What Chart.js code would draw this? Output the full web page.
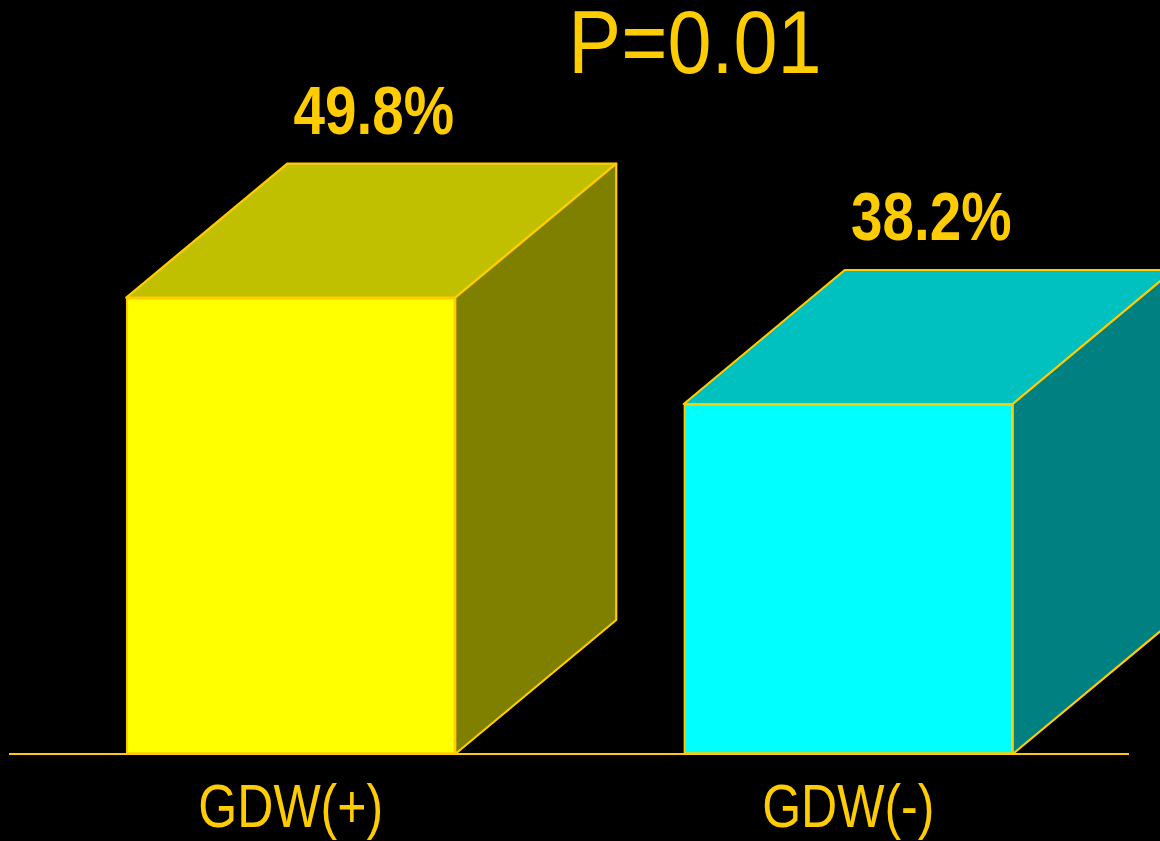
<!DOCTYPE html>
<html>
<head>
<meta charset="utf-8">
<title>GDW</title>
<script src="https://cdn.jsdelivr.net/npm/chart.js@4/dist/chart.umd.min.js"></script>
<style>
  html, body { margin: 0; padding: 0; background: #000; }
  #c { display: block; }
</style>
</head>
<body>
<canvas id="c" width="1160" height="841"></canvas>
<script>
// Categories and values (percent)
const categories = ['GDW(+)', 'GDW(-)'];
const values = [49.8, 38.2];
const valueLabels = ['49.8%', '38.2%'];
const pValueText = 'P=0.01';

// Face colours per bar: front, top, side
const frontColors = ['#FFFF00', '#00FFFF'];
const topColors = ['#C0C000', '#00C0C0'];
const sideColors = ['#808000', '#008080'];
const edgeColor = '#FFCC00';
const textColor = '#FFCC00';

// Extrusion of the boxes (pixels)
const DEPTH_X = 161;
const DEPTH_Y = -134;

function poly(ctx, pts, fill) {
  ctx.beginPath();
  ctx.moveTo(pts[0][0], pts[0][1]);
  for (let i = 1; i < pts.length; i++) ctx.lineTo(pts[i][0], pts[i][1]);
  ctx.closePath();
  ctx.fillStyle = fill;
  ctx.fill();
  ctx.lineWidth = 2.2;
  ctx.lineJoin = 'round';
  ctx.strokeStyle = edgeColor;
  ctx.stroke();
}

// centred text, squeezed horizontally for a condensed look
function condensedText(ctx, text, x, y, squeeze) {
  ctx.save();
  ctx.translate(x, y);
  ctx.scale(squeeze, 1);
  ctx.textAlign = 'center';
  ctx.fillText(text, 0, 0);
  ctx.restore();
}

const boxPlugin = {
  id: 'box3d',
  beforeDraw(chart) {
    const ctx = chart.ctx;
    ctx.save();
    ctx.fillStyle = '#000';
    ctx.fillRect(0, 0, chart.width, chart.height);
    ctx.restore();
  },
  beforeDatasetsDraw(chart) {
    const ctx = chart.ctx;
    const y0 = chart.scales.y.getPixelForValue(0);
    const area = chart.chartArea;
    ctx.save();
    ctx.strokeStyle = edgeColor;
    ctx.lineWidth = 2;
    ctx.beginPath();
    ctx.moveTo(area.left - 3, y0);
    ctx.lineTo(area.right + 2, y0);
    ctx.stroke();
    ctx.restore();
  },
  afterDatasetsDraw(chart) {
    const ctx = chart.ctx;
    const meta = chart.getDatasetMeta(0);
    ctx.save();
    meta.data.forEach((bar, i) => {
      const p = bar.getProps(['x', 'y', 'base', 'width'], true);
      const l = p.x - p.width / 2, r = p.x + p.width / 2;
      poly(ctx, [[l, p.y], [l + DEPTH_X, p.y + DEPTH_Y], [r + DEPTH_X, p.y + DEPTH_Y], [r, p.y]], topColors[i]);
      poly(ctx, [[r, p.y], [r + DEPTH_X, p.y + DEPTH_Y], [r + DEPTH_X, p.base + DEPTH_Y], [r, p.base]], sideColors[i]);
    });
    ctx.restore();
  },
  afterDraw(chart) {
    const ctx = chart.ctx;
    const meta = chart.getDatasetMeta(0);
    const xs = chart.scales.x;
    const y0 = chart.scales.y.getPixelForValue(0);
    ctx.save();
    ctx.fillStyle = textColor;
    ctx.textBaseline = 'alphabetic';

    // value labels above each box
    ctx.font = 'bold 69px "Liberation Sans", Arial, sans-serif';
    meta.data.forEach((bar, i) => {
      const p = bar.getProps(['x', 'y'], true);
      condensedText(ctx, valueLabels[i], p.x + 83, p.y + DEPTH_Y - 30, 0.82);
    });

    // category labels under the baseline
    ctx.font = '61px "Liberation Sans", Arial, sans-serif';
    categories.forEach((c, i) => {
      condensedText(ctx, c, xs.getPixelForValue(i), y0 + 73, 0.82);
    });

    // significance note
    ctx.font = '89px "Liberation Sans", Arial, sans-serif';
    condensedText(ctx, pValueText, 695, 73, 0.89);
    ctx.restore();
  }
};

new Chart(document.getElementById('c'), {
  type: 'bar',
  data: {
    labels: categories,
    datasets: [{
      data: values,
      backgroundColor: frontColors,
      borderColor: edgeColor,
      borderWidth: 2,
      borderSkipped: false,
      barThickness: 329,
      clip: false
    }]
  },
  options: {
    responsive: false,
    animation: false,
    events: [],
    layout: { padding: { left: 12, right: 33, top: 21, bottom: 87 } },
    plugins: { legend: { display: false }, tooltip: { enabled: false }, title: { display: false } },
    scales: {
      x: { display: false, offset: true, grid: { display: false } },
      y: { display: false, min: 0, max: 80, grid: { display: false } }
    }
  },
  plugins: [boxPlugin]
});
</script>
</body>
</html>
